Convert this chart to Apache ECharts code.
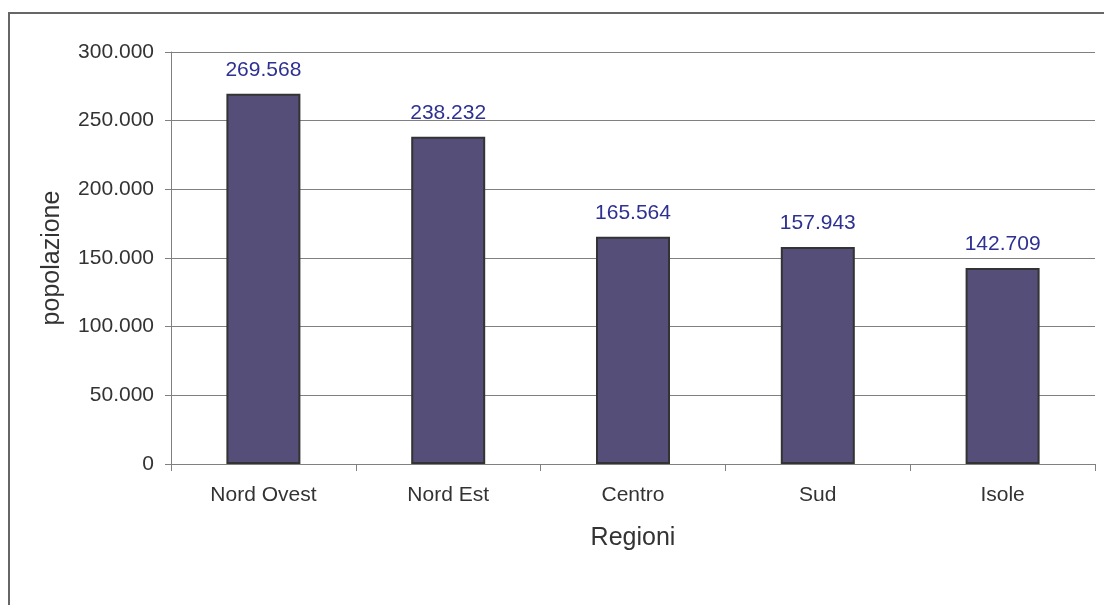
<!DOCTYPE html>
<html>
<head>
<meta charset="utf-8">
<script src="https://cdn.jsdelivr.net/npm/echarts@6/dist/echarts.min.js"></script>
<style>
html,body{margin:0;padding:0;background:#fff;}
#c{width:1104px;height:605px;}
</style>
</head>
<body>
<div id="c"></div>
<script>
const categories = ['Nord Ovest', 'Nord Est', 'Centro', 'Sud', 'Isole'];
const popolazione = [269568, 238232, 165564, 157943, 142709];
const yTicks = [0, 50000, 100000, 150000, 200000, 250000, 300000];

function fmt(v) {
  if (v === 0) return '0';
  const s = String(Math.round(v));
  return s.replace(/\B(?=(\d{3})+(?!\d))/g, '.');
}

const font = 'Liberation Sans, Arial, sans-serif';
const chart = echarts.init(document.getElementById('c'), null, {renderer: 'canvas'});
chart.setOption({
  backgroundColor: '#ffffff',
  animation: false,
  graphic: [{
    type: 'rect',
    shape: {x: 9, y: 13, width: 1300, height: 800},
    style: {fill: 'none', stroke: '#666666', lineWidth: 2},
    z: -1
  }],
  grid: {left: 171, right: 9, top: 52, bottom: 141, containLabel: false},
  xAxis: {
    type: 'category',
    data: categories,
    name: 'Regioni',
    nameLocation: 'middle',
    nameGap: 62,
    nameTextStyle: {fontFamily: font, fontSize: 25, color: '#333333'},
    axisLine: {show: true, lineStyle: {color: '#808080', width: 1}},
    axisTick: {show: true, length: 7, alignWithLabel: false, lineStyle: {color: '#808080'}},
    axisLabel: {fontFamily: font, fontSize: 21, color: '#333333', margin: 21},
    splitLine: {show: false}
  },
  yAxis: {
    type: 'value',
    min: yTicks[0],
    max: yTicks[yTicks.length - 1],
    interval: yTicks[1] - yTicks[0],
    name: 'popolazione',
    nameLocation: 'middle',
    nameGap: 106,
    nameTextStyle: {fontFamily: font, fontSize: 25, color: '#333333'},
    axisLine: {show: true, lineStyle: {color: '#808080', width: 1}},
    axisTick: {show: true, length: 6, inside: false, lineStyle: {color: '#808080'}},
    axisLabel: {fontFamily: font, fontSize: 21, color: '#333333', margin: 17, formatter: fmt},
    splitLine: {show: true, lineStyle: {color: '#808080', width: 1}}
  },
  series: [{
    type: 'bar',
    data: popolazione,
    barWidth: 74,
    itemStyle: {color: '#544E78', borderColor: '#333333', borderWidth: 2},
    label: {
      show: true,
      position: 'top',
      distance: 13,
      fontFamily: font,
      fontSize: 21,
      color: '#2E3192',
      formatter: p => fmt(p.value)
    }
  }]
});
</script>
</body>
</html>
